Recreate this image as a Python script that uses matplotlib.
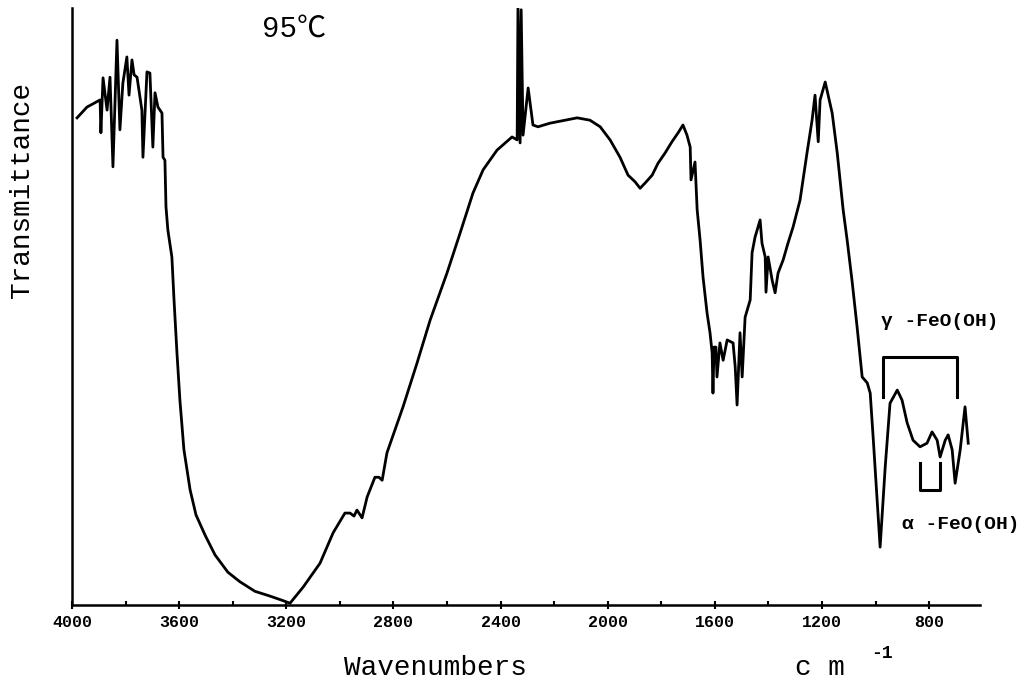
import numpy as np
import matplotlib.pyplot as plt
from matplotlib.ticker import MultipleLocator

# IR spectrum (wavenumber in cm-1, transmittance in %)
wavenumber = [3981, 3944, 3895, 3892, 3884, 3869, 3858, 3847, 3832, 3821,
              3810, 3795, 3787, 3776, 3768, 3757, 3739, 3735, 3720, 3709,
              3698, 3690, 3679, 3664, 3660, 3653, 3649, 3642, 3627, 3619,
              3608, 3597, 3582, 3559, 3537, 3503, 3466, 3418, 3373, 3317,
              3261, 3216, 3186, 3137, 3074, 3025, 2981, 2962, 2947, 2936,
              2917, 2898, 2869, 2854, 2842, 2824, 2764, 2712, 2663, 2600,
              2551, 2503, 2465, 2413, 2357, 2338, 2335, 2327, 2323, 2316,
              2297, 2279, 2260, 2216, 2114, 2066, 2028, 1991, 1954, 1924,
              1898, 1879, 1860, 1834, 1812, 1786, 1760, 1737, 1719, 1704,
              1692, 1689, 1674, 1666, 1655, 1644, 1629, 1618, 1610, 1607,
              1603, 1596, 1592, 1581, 1569, 1554, 1532, 1524, 1517, 1506,
              1498, 1487, 1468, 1461, 1450, 1431, 1424, 1412, 1409, 1401,
              1386, 1375, 1364, 1345, 1327, 1308, 1282, 1256, 1237, 1226,
              1214, 1207, 1188, 1162, 1143, 1121, 1106, 1088, 1069, 1050,
              1031, 1020, 1009, 994, 983, 964, 946, 919, 901, 882,
              860, 834, 808, 789, 770, 759, 740, 729, 714, 703,
              684, 666, 654]
transmittance = [81.6, 83.4, 84.6, 79.1, 88.3, 82.9, 88.4, 73.4, 94.6, 79.6,
                 87.4, 91.8, 85.4, 91.3, 88.8, 88.4, 82.9, 75.0, 89.3, 89.1,
                 76.7, 85.8, 83.4, 82.4, 75.0, 74.5, 66.7, 62.8, 58.3, 51.1,
                 42.2, 34.3, 26.0, 19.3, 15.1, 11.7, 8.4, 5.5, 3.9, 2.3,
                 1.5, 0.8, 0.3, 3.0, 7.0, 12.1, 15.4, 15.4, 14.9, 15.9,
                 14.6, 18.1, 21.4, 21.4, 20.9, 25.5, 33.2, 40.5, 47.7, 55.6,
                 62.3, 69.0, 72.9, 76.2, 78.4, 77.9, 100.0, 77.4, 99.7, 78.7,
                 86.6, 80.4, 80.1, 80.7, 81.6, 81.2, 80.1, 77.9, 75.0, 72.0,
                 70.9, 69.8, 70.7, 72.0, 74.0, 75.7, 77.6, 79.1, 80.4, 78.7,
                 76.7, 71.2, 74.2, 66.2, 61.1, 54.9, 48.9, 45.6, 42.2, 35.5,
                 43.2, 43.2, 38.2, 43.9, 41.0, 44.4, 43.9, 39.9, 33.5, 45.6,
                 38.2, 48.2, 51.1, 59.0, 61.6, 64.5, 60.6, 58.3, 52.4, 58.3,
                 54.4, 52.3, 55.6, 57.8, 60.6, 63.3, 67.8, 75.7, 81.2, 85.4,
                 77.6, 84.6, 87.6, 82.4, 75.7, 66.2, 61.1, 54.4, 46.6, 38.2,
                 37.2, 35.5, 28.1, 17.6, 9.7, 23.1, 33.8, 36.0, 34.3, 30.5,
                 27.6, 26.5, 27.1, 29.0, 27.6, 24.8, 27.6, 28.5, 26.0, 20.4,
                 26.0, 33.2, 27.1]

xticks = [4000, 3600, 3200, 2800, 2400, 2000, 1600, 1200, 800]

# band brackets: (left, right) wavenumber and (top, bottom) transmittance
gamma_band = [972, 695]
gamma_level = [41.5, 34.8]
alpha_band = [834, 759]
alpha_level = [23.8, 19.3]

mono = ['Liberation Mono', 'DejaVu Sans Mono']

fig = plt.figure(figsize=(10.34, 6.94), dpi=100)
ax = fig.add_axes([0.0696, 0.1282, 0.8782, 0.8603])

ax.plot(wavenumber, transmittance, color='black', lw=2.0)

# gamma bracket (open downwards)
ax.plot([gamma_band[0], gamma_band[0], gamma_band[1], gamma_band[1]],
        [gamma_level[1], gamma_level[0], gamma_level[0], gamma_level[1]],
        color='black', lw=2.2)
# alpha bracket (open upwards)
ax.plot([alpha_band[0], alpha_band[0], alpha_band[1], alpha_band[1]],
        [alpha_level[0], alpha_level[1], alpha_level[1], alpha_level[0]],
        color='black', lw=2.2)

ax.set_xlim(4000, 610)
ax.set_ylim(0, 100)
ax.set_xticks(xticks)
ax.set_xticklabels([str(t) for t in xticks], family=mono,
                   fontweight='bold', fontsize=12)
ax.xaxis.set_minor_locator(MultipleLocator(200))
ax.tick_params(axis='x', which='major', direction='inout', length=6,
               width=1.5, pad=4)
ax.tick_params(axis='x', which='minor', direction='in', length=3, width=1.5)
ax.set_yticks([])

for s in ['top', 'right']:
    ax.spines[s].set_visible(False)
for s in ['left', 'bottom']:
    ax.spines[s].set_linewidth(1.8)

ax.text(3170, 96.5, '95℃', family=['Liberation Mono', 'Noto Sans CJK SC'],
        fontsize=21, ha='center', va='center')
ax.text(979, 47.5, 'γ -FeO(OH)', family=mono, fontweight='bold',
        fontsize=14, ha='left', va='center')
ax.text(900, 13.5, 'α -FeO(OH)', family=mono, fontweight='bold',
        fontsize=14, ha='left', va='center')

fig.text(0.021, 0.726, 'Transmittance', family=mono, fontsize=20,
         rotation=90, ha='center', va='center')
fig.text(0.421, 0.038, 'Wavenumbers', family=mono, fontsize=20,
         ha='center', va='center')
fig.text(0.769, 0.038, 'c m', family=mono, fontsize=20,
         ha='left', va='center')
fig.text(0.842, 0.058, '-1', family=mono, fontsize=13, fontweight='bold',
         ha='left', va='center')

plt.savefig('out.png', dpi=100)
